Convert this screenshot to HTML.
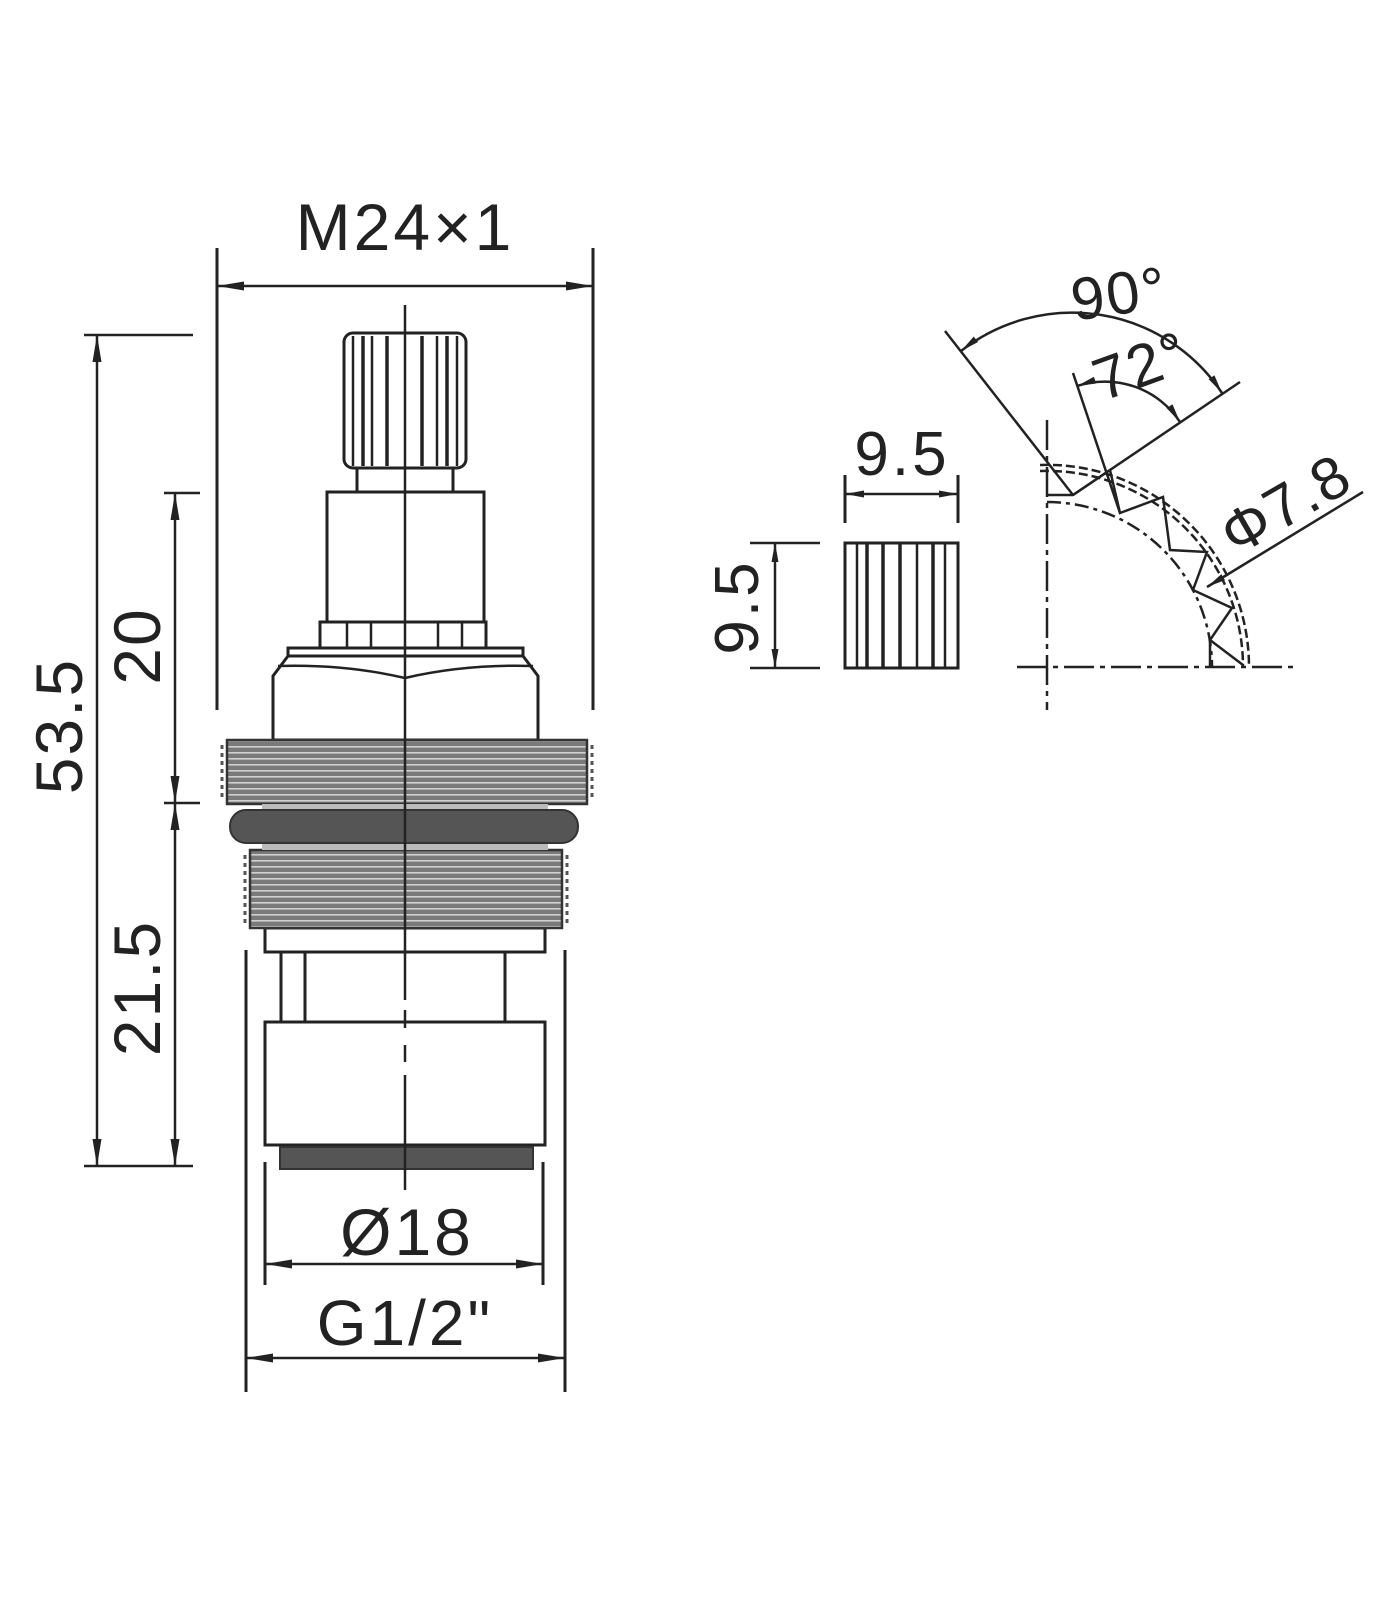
<!DOCTYPE html>
<html><head><meta charset="utf-8"><style>
html,body{margin:0;padding:0;background:#fff;}
svg{display:block;}
text{font-family:"Liberation Sans",sans-serif;fill:#222;}
</style></head><body>
<svg width="1400" height="1600" viewBox="0 0 1400 1600" xmlns="http://www.w3.org/2000/svg">
<defs>
<marker id="a" markerUnits="userSpaceOnUse" markerWidth="28" markerHeight="10" refX="27" refY="5" orient="auto-start-reverse">
<path d="M0,0.5 L27,5 L0,9.5 z" fill="#222"/>
</marker>
<marker id="s" markerUnits="userSpaceOnUse" markerWidth="20" markerHeight="8" refX="19" refY="4" orient="auto-start-reverse">
<path d="M0,0.5 L19,4 L0,7.5 z" fill="#222"/>
</marker>
<pattern id="thr" patternUnits="userSpaceOnUse" width="40" height="6">
<rect width="40" height="6" fill="#7a7a7a"/>
<rect y="2" width="40" height="1.6" fill="#d0d0d0"/>
</pattern>
</defs>
<g stroke="#222" fill="none" stroke-width="3">
<!-- M24x1 -->
<line x1="217" y1="248" x2="217" y2="710"/>
<line x1="593" y1="248" x2="593" y2="710"/>
<line x1="217" y1="286" x2="593" y2="286" stroke-width="2.5" marker-start="url(#a)" marker-end="url(#a)"/>
<!-- 53.5 -->
<line x1="84" y1="335" x2="193" y2="335" stroke-width="2.5"/>
<line x1="84" y1="1166" x2="193" y2="1166" stroke-width="2.5"/>
<line x1="97" y1="335" x2="97" y2="1166" stroke-width="2.5" marker-start="url(#a)" marker-end="url(#a)"/>
<!-- 20 -->
<line x1="164" y1="493" x2="200" y2="493" stroke-width="2.5"/>
<line x1="164" y1="803" x2="200" y2="803" stroke-width="2.5"/>
<line x1="175" y1="493" x2="175" y2="803" stroke-width="2.5" marker-start="url(#a)" marker-end="url(#a)"/>
<line x1="175" y1="803" x2="175" y2="1166" stroke-width="2.5" marker-start="url(#a)" marker-end="url(#a)"/>
<!-- Ø18 -->
<line x1="265" y1="1162" x2="265" y2="1285"/>
<line x1="543" y1="1162" x2="543" y2="1285"/>
<line x1="265" y1="1264" x2="543" y2="1264" stroke-width="2.5" marker-start="url(#a)" marker-end="url(#a)"/>
<!-- G1/2 -->
<line x1="246" y1="950" x2="246" y2="1392"/>
<line x1="565" y1="950" x2="565" y2="1392"/>
<line x1="246" y1="1358" x2="565" y2="1358" stroke-width="2.5" marker-start="url(#a)" marker-end="url(#a)"/>
</g>
<!-- cartridge body -->
<g stroke="#222" stroke-width="3" fill="#fff">
<rect x="344" y="333" width="122" height="135" rx="9"/>
<rect x="357" y="468" width="96" height="24"/>
<rect x="327" y="492" width="157" height="130"/>
<rect x="320" y="622" width="166" height="26"/>
<rect x="288" y="648" width="235" height="8"/>
<path d="M288,656 L273,676 L273,740 L538,740 L538,676 L523,656 Z"/>
<rect x="265" y="928" width="280" height="24"/>
<rect x="265" y="1022" width="280" height="123"/>
</g>
<g stroke="#222" stroke-width="2.5" fill="none">
<path d="M278,666 Q345,664 405,678 Q465,664 533,666"/>
<line x1="353" y1="336" x2="353" y2="466"/><line x1="363" y1="336" x2="363" y2="466" stroke-width="3.5"/>
<line x1="372" y1="336" x2="372" y2="466"/><line x1="387" y1="336" x2="387" y2="466" stroke-width="3.5"/>
<line x1="422" y1="336" x2="422" y2="466" stroke-width="3.5"/><line x1="437" y1="336" x2="437" y2="466"/>
<line x1="447" y1="336" x2="447" y2="466" stroke-width="3.5"/><line x1="457" y1="336" x2="457" y2="466"/>
<line x1="347" y1="622" x2="347" y2="648"/><line x1="371" y1="622" x2="371" y2="648"/>
<line x1="438" y1="622" x2="438" y2="648"/><line x1="462" y1="622" x2="462" y2="648"/>
<line x1="281" y1="952" x2="281" y2="1022" stroke-width="3"/>
<line x1="305" y1="952" x2="305" y2="1022" stroke-width="3"/>
<line x1="505" y1="952" x2="505" y2="1022" stroke-width="3"/>
</g>
<!-- threads -->
<rect x="227" y="740" width="360" height="64" fill="url(#thr)" stroke="#333" stroke-width="2.5"/>
<rect x="250" y="850" width="312" height="78" fill="url(#thr)" stroke="#333" stroke-width="2.5"/>
<g stroke="#555" stroke-width="3">
<line x1="222" y1="745" x2="222" y2="800" stroke-dasharray="4 4"/>
<line x1="592" y1="745" x2="592" y2="800" stroke-dasharray="4 4"/>
<line x1="245" y1="855" x2="245" y2="925" stroke-dasharray="4 4"/>
<line x1="567" y1="855" x2="567" y2="925" stroke-dasharray="4 4"/>
</g>
<rect x="262" y="804" width="286" height="46" fill="#bbb" stroke="none"/>
<rect x="230" y="810" width="348" height="33" rx="16" fill="#555" stroke="#333" stroke-width="2"/>
<rect x="280" y="1147" width="253" height="22" fill="#555" stroke="#333" stroke-width="2"/>
<!-- center line -->
<g stroke="#222" stroke-width="2.5">
<line x1="405" y1="305" x2="405" y2="1000"/>
<line x1="405" y1="1010" x2="405" y2="1028"/>
<line x1="405" y1="1045" x2="405" y2="1062"/>
<line x1="405" y1="1075" x2="405" y2="1190"/>
</g>
<!-- texts left -->
<text x="405" y="250" font-size="66" text-anchor="middle" letter-spacing="3">M24×1</text>
<text transform="translate(82,726) rotate(-90)" font-size="66" text-anchor="middle" letter-spacing="2">53.5</text>
<text transform="translate(160,646) rotate(-90)" font-size="66" text-anchor="middle" letter-spacing="2">20</text>
<text transform="translate(160,988) rotate(-90)" font-size="66" text-anchor="middle" letter-spacing="2">21.5</text>
<text x="407" y="1255" font-size="66" text-anchor="middle" letter-spacing="3">Ø18</text>
<text x="405" y="1345" font-size="64" text-anchor="middle" letter-spacing="3">G1/2"</text>
<!-- small square detail -->
<g stroke="#222" fill="none">
<rect x="845" y="543" width="113" height="125" stroke-width="3"/>
<g stroke-width="2.5">
<line x1="857" y1="543" x2="857" y2="668"/><line x1="867" y1="543" x2="867" y2="668" stroke-width="3.5"/>
<line x1="883" y1="543" x2="883" y2="668" stroke-width="3.5"/><line x1="900" y1="543" x2="900" y2="668" stroke-width="3.5"/>
<line x1="917" y1="543" x2="917" y2="668"/><line x1="933" y1="543" x2="933" y2="668" stroke-width="3.5"/>
<line x1="945" y1="543" x2="945" y2="668"/>
</g>
<line x1="845" y1="475" x2="845" y2="523" stroke-width="3"/>
<line x1="958" y1="475" x2="958" y2="523" stroke-width="3"/>
<line x1="845" y1="494" x2="958" y2="494" stroke-width="2.5" marker-start="url(#s)" marker-end="url(#s)"/>
<line x1="750" y1="543" x2="820" y2="543" stroke-width="2.5"/>
<line x1="750" y1="668" x2="820" y2="668" stroke-width="2.5"/>
<line x1="775" y1="543" x2="775" y2="668" stroke-width="2.5" marker-start="url(#s)" marker-end="url(#s)"/>
</g>
<text x="902" y="475" font-size="62" text-anchor="middle" letter-spacing="3">9.5</text>
<text transform="translate(758,607) rotate(-90)" font-size="62" text-anchor="middle" letter-spacing="3">9.5</text>
<!-- arc detail -->
<g stroke="#222" fill="none">
<line x1="1047" y1="420" x2="1047" y2="710" stroke-width="2.5" stroke-dasharray="30 6 5 6"/>
<line x1="1017" y1="667" x2="1295" y2="667" stroke-width="2.5" stroke-dasharray="30 6 5 6"/>
<path d="M1047,502 A165,165 0 0 1 1212,667" stroke-width="2.5" stroke-dasharray="14 5 4 5"/>
<path d="M1040,471 A196,196 0 0 1 1243,667" stroke-width="2.5" stroke-dasharray="9 4"/>
<path d="M1040,465 A202,202 0 0 1 1249,667" stroke-width="2.5" stroke-dasharray="9 4"/>
<polyline stroke-width="2.5" points="1048,495 1073,495 1110,470 1120,513 1163,497 1170,550 1207,552 1193,590 1232,608 1210,640 1243,665"/>
<line x1="1210" y1="640" x2="1210" y2="667" stroke-width="2.5"/>
<line x1="945" y1="331" x2="1073" y2="495" stroke-width="2.5"/>
<line x1="1073" y1="495" x2="1240" y2="382" stroke-width="2.5"/>
<line x1="1073" y1="373" x2="1120" y2="513" stroke-width="2.5"/>
<path d="M961,351 A180,180 0 0 1 1222,393" stroke-width="2.5" marker-start="url(#s)" marker-end="url(#s)"/>
<path d="M1077,386 A90,90 0 0 1 1180,422" stroke-width="2.5" marker-start="url(#s)" marker-end="url(#s)"/>
<line x1="1363" y1="492" x2="1207" y2="587" stroke-width="2.5" marker-end="url(#s)"/>
</g>
<text transform="translate(1122,314) rotate(-8)" font-size="60" text-anchor="middle" letter-spacing="2">90°</text>
<text transform="translate(1148,385) rotate(-20)" font-size="60" text-anchor="middle" letter-spacing="2">72°</text>
<text transform="translate(1296,522) rotate(-30)" font-size="60" text-anchor="middle" letter-spacing="2">Φ7.8</text>
</svg>
</body></html>
